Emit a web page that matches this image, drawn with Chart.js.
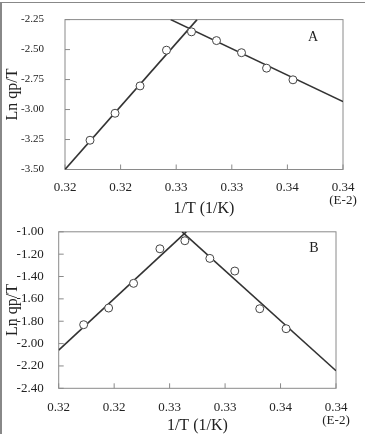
<!DOCTYPE html>
<html>
<head>
<meta charset="utf-8">
<script src="https://cdn.jsdelivr.net/npm/chart.js@4"></script>
<style>
  html, body { margin: 0; padding: 0; background: #fff; }
  #wrap { position: relative; width: 365px; height: 434px; overflow: hidden; }
  #wrap canvas { position: absolute; left: 0; }
  .edge { position: absolute; background: #888; }
</style>
</head>
<body>
<div id="wrap">
  <canvas id="chartA" width="365" height="217" style="top:0"></canvas>
  <canvas id="chartB" width="365" height="217" style="top:217px"></canvas>
  <div class="edge" style="left:0;top:2px;width:365px;height:1px"></div>
  <div class="edge" style="left:0;top:2px;width:1.5px;height:432px"></div>
</div>
<script>
// shared x axis (1/T, in units of E-2)
const xTicks = [0.320, 0.324, 0.328, 0.332, 0.336, 0.340];
const invT = [0.3218, 0.3236, 0.3254, 0.3273, 0.3291, 0.3309, 0.3327, 0.3345, 0.3364];

// panel A
const aTicks = [-3.50, -3.25, -3.00, -2.75, -2.50, -2.25];
const lnA = [-3.256, -3.031, -2.803, -2.505, -2.352, -2.425, -2.526, -2.655, -2.752];
const fitA1X = [0.320, 0.3295], fitA1Y = [-3.50, -2.25];
const fitA2X = [0.3276, 0.340], fitA2Y = [-2.25, -2.934];

// panel B
const bTicks = [-2.40, -2.20, -2.00, -1.80, -1.60, -1.40, -1.20, -1.00];
const lnB = [-1.831, -1.682, -1.461, -1.152, -1.080, -1.238, -1.351, -1.688, -1.867];
const fitB1X = [0.320, 0.3292], fitB1Y = [-2.058, -1.00];
const fitB2X = [0.3289, 0.340], fitB2Y = [-1.00, -2.243];

Chart.defaults.font.family = '"Liberation Serif", "Times New Roman", serif';
Chart.defaults.color = '#222';

const zip = (xs, ys) => xs.map((x, i) => ({ x: x, y: ys[i] }));

// frame, inward tick marks and the panel letter
const panelDeco = {
  id: 'panelDeco',
  beforeDatasetsDraw(chart, args, opts) {
    const { ctx, chartArea: a, scales } = chart;
    ctx.save();
    ctx.strokeStyle = '#8a8a8a';
    ctx.lineWidth = 1;
    ctx.strokeRect(a.left, a.top, a.right - a.left, a.bottom - a.top);
    ctx.beginPath();
    scales.x.ticks.forEach(t => {
      const p = scales.x.getPixelForValue(t.value);
      ctx.moveTo(p, a.bottom);
      ctx.lineTo(p, a.bottom - 5);
    });
    scales.y.ticks.forEach(t => {
      const p = scales.y.getPixelForValue(t.value);
      ctx.moveTo(a.left, p);
      ctx.lineTo(a.left + 5, p);
    });
    ctx.stroke();
    ctx.fillStyle = '#222';
    ctx.font = '14px "Liberation Serif"';
    ctx.textAlign = 'center';
    ctx.textBaseline = 'middle';
    ctx.fillText(opts.text, a.right + opts.dx, a.top + opts.dy);
    ctx.restore();
  }
};

function makePanel(id, p) {
  return new Chart(document.getElementById(id), {
    type: 'scatter',
    data: {
      datasets: [
        {
          data: zip(invT, p.ys),
          pointRadius: 4,
          pointBorderWidth: 1,
          pointBorderColor: '#444',
          pointBackgroundColor: '#fff'
        },
        {
          data: zip(p.fit1X, p.fit1Y),
          showLine: true, pointRadius: 0,
          borderColor: '#333', borderWidth: 1.6
        },
        {
          data: zip(p.fit2X, p.fit2Y),
          showLine: true, pointRadius: 0,
          borderColor: '#333', borderWidth: 1.6
        }
      ]
    },
    options: {
      responsive: false,
      animation: false,
      layout: {
        autoPadding: false,
        padding: { left: 5, right: p.padRight, top: p.padTop, bottom: 0 }
      },
      plugins: {
        legend: { display: false },
        tooltip: { enabled: false },
        panelDeco: { text: p.letter, dx: p.letterDx, dy: p.letterDy }
      },
      scales: {
        x: {
          type: 'linear',
          min: 0.32,
          max: 0.34,
          afterBuildTicks: s => { s.ticks = xTicks.map(v => ({ value: v })); },
          afterFit: s => { s.height = p.xHeight; },
          grid: { display: false },
          border: { display: false },
          ticks: {
            padding: p.xPad,
            maxRotation: 0,
            autoSkip: false,
            font: { size: 13, lineHeight: 1.0 },
            callback: (v, i, ticks) => i === ticks.length - 1 ? [v.toFixed(2), '(E-2)'] : v.toFixed(2)
          },
          title: {
            display: true,
            text: '1/T (1/K)',
            padding: 0,
            font: { size: 16, lineHeight: 1 }
          }
        },
        y: {
          type: 'linear',
          min: p.ticks[0],
          max: p.ticks[p.ticks.length - 1],
          afterBuildTicks: s => { s.ticks = p.ticks.map(v => ({ value: v })); },
          afterFit: s => { s.width = p.yWidth; },
          grid: { display: false },
          border: { display: false },
          ticks: {
            padding: p.yPad,
            autoSkip: false,
            font: { size: p.yFont },
            callback: v => v.toFixed(2)
          },
          title: {
            display: true,
            text: 'Ln qp/T',
            padding: 0,
            font: { size: 16, lineHeight: 1 }
          }
        }
      }
    },
    plugins: [panelDeco]
  });
}

makePanel('chartA', {
  ys: lnA, fit1X: fitA1X, fit1Y: fitA1Y, fit2X: fitA2X, fit2Y: fitA2Y,
  ticks: aTicks, letter: 'A', letterDx: -30, letterDy: 18,
  padTop: 14, padRight: 22, yWidth: 60, xHeight: 47.5, xPad: 4, yPad: 13, yFont: 11
});

makePanel('chartB', {
  ys: lnB, fit1X: fitB1X, fit1Y: fitB1Y, fit2X: fitB2X, fit2Y: fitB2Y,
  ticks: bTicks, letter: 'B', letterDx: -22, letterDy: 17,
  padTop: 14.7, padRight: 29, yWidth: 53.7, xHeight: 45.7, xPad: 4.5, yPad: 7, yFont: 13
});
</script>
</body>
</html>
